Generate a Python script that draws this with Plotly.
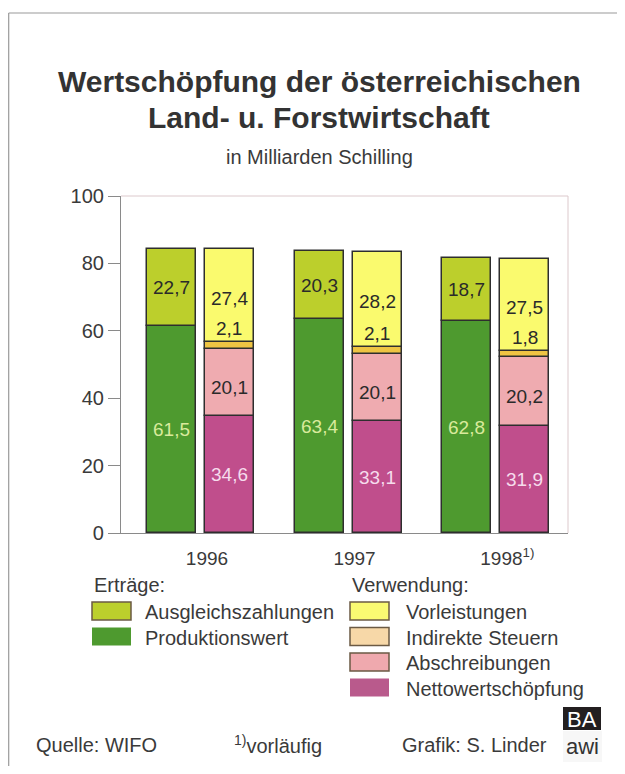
import plotly.graph_objects as go
import numpy as np

# ---------------- data ----------------
years = ["1996", "1997", "1998"]
year_labels = ["1996", "1997", "&nbsp;&nbsp;1998<sup>1)</sup>"]
y_ticks = [0, 20, 40, 60, 80, 100]

# Erträge
produktionswert = [61.5, 63.4, 62.8]
ausgleichszahlungen = [22.7, 20.3, 18.7]
# Verwendung
nettowertschoepfung = [34.6, 33.1, 31.9]
abschreibungen = [20.1, 20.1, 20.2]
indirekte_steuern = [2.1, 2.1, 1.8]
vorleistungen = [27.4, 28.2, 27.5]

# ---------------- layout constants ----------------
# the page body has an 8px margin, so the figure is a bit smaller
BODY = 8
WIDTH, HEIGHT = 625 - 2 * BODY, 774 - 2 * BODY
# plot area in page (reference) pixels
PL, PR, PT, PB = 121, 568, 196, 533
PW, PH = PR - PL, PB - PT

def px(x):
    return (x - PL) / PW

def py(y):
    return (PB - y) / PH

FONT = "Liberation Sans, Arial, Helvetica, sans-serif"
TXT = "#3a3a3a"
OUTLINE = "#2e2e2e"

C_AUSG = "#bccf2c"
C_PROD = "#4e9a2f"
C_VORL = "#fafa6e"
C_STEU = "#eec443"
C_ABSC = "#efabb0"
C_NETT = "#c04e8c"

BAR_W = 0.332
OFF_L = -0.405
OFF_R = -0.0136

fig = go.Figure()
xidx = np.arange(len(years))

def add_stack(values_list, colors, offset):
    base = np.zeros(len(years))
    bases = []
    for vals, col in zip(values_list, colors):
        vals = np.array(vals)
        fig.add_trace(go.Bar(
            x=years, y=vals, base=base.copy(), width=BAR_W, offset=offset,
            marker=dict(color=col, line=dict(color=OUTLINE, width=1.5)),
            hoverinfo="skip", showlegend=False,
        ))
        bases.append(base.copy())
        base = base + vals
    return bases

left_bases = add_stack([produktionswert, ausgleichszahlungen], [C_PROD, C_AUSG], OFF_L)
right_bases = add_stack([nettowertschoepfung, abschreibungen, indirekte_steuern, vorleistungen],
                        [C_NETT, C_ABSC, C_STEU, C_VORL], OFF_R)

def fmt(v):
    return f"{v:.1f}".replace(".", ",")

annotations = []

def label(i, offset, y, v, color):
    annotations.append(dict(
        x=float(xidx[i] + offset + BAR_W / 2), y=float(y), xref="x", yref="y",
        text=fmt(v), showarrow=False, xanchor="center", yanchor="middle",
        font=dict(family=FONT, size=19, color=color),
    ))

for i in range(len(years)):
    # left stack
    label(i, OFF_L, left_bases[0][i] + produktionswert[i] / 2, produktionswert[i], "#d9ea9c")
    label(i, OFF_L, left_bases[1][i] + ausgleichszahlungen[i] / 2, ausgleichszahlungen[i], "#2a2a2a")
    # right stack
    label(i, OFF_R, right_bases[0][i] + nettowertschoepfung[i] / 2, nettowertschoepfung[i], "#f6dcec")
    label(i, OFF_R, right_bases[1][i] + abschreibungen[i] / 2 - 1.5, abschreibungen[i], "#2a2a2a")
    label(i, OFF_R, right_bases[2][i] + indirekte_steuern[i] + 4.0, indirekte_steuern[i], "#2a2a2a")
    label(i, OFF_R, right_bases[3][i] + vorleistungen[i] / 2 - 0.8, vorleistungen[i], "#2a2a2a")

def ptext(x, y, text, size=20, color=TXT, xanchor="left", bold=False):
    annotations.append(dict(
        x=px(x), y=py(y), xref="paper", yref="paper", text=f"<b>{text}</b>" if bold else text,
        showarrow=False, xanchor=xanchor, yanchor="middle",
        font=dict(family=FONT, size=size, color=color),
    ))

# titles
ptext(319, 81, "Wertschöpfung der österreichischen", size=30, color="#333333", xanchor="center", bold=True)
ptext(319, 117, "Land- u. Forstwirtschaft", size=30, color="#333333", xanchor="center", bold=True)
ptext(319, 157, "in Milliarden Schilling", size=20, xanchor="center")

# legend
ptext(92, 585, "Erträge:")
ptext(350, 585, "Verwendung:")
left_items = [("Ausgleichszahlungen", C_AUSG, True), ("Produktionswert", C_PROD, False)]
right_items = [("Vorleistungen", "#fafa72", True), ("Indirekte Steuern", "#f7d8a8", True),
               ("Abschreibungen", "#efa9ae", True), ("Nettowertschöpfung", "#b95a8c", False)]

shapes = []
def swatch(x0, yc, color, outline):
    shapes.append(dict(
        type="rect", xref="paper", yref="paper",
        x0=px(x0), x1=px(x0 + 39), y0=py(yc + 9), y1=py(yc - 9),
        fillcolor=color,
        line=dict(color="#6b5a44" if outline else color, width=1.5 if outline else 0),
    ))

for k, (name, col, ol) in enumerate(left_items):
    yc = 611 + k * 25.5
    swatch(92, yc, col, ol)
    ptext(143, yc + 1, name)
for k, (name, col, ol) in enumerate(right_items):
    yc = 611 + k * 25.5
    swatch(350, yc, col, ol)
    ptext(404, yc + 1, name)

# footer
ptext(34, 745, "Quelle: WIFO")
ptext(232, 744, "<sup>1)</sup>vorläufig")
ptext(400, 745, "Grafik: S. Linder")

# BA awi logo
shapes.append(dict(type="rect", xref="paper", yref="paper",
                   x0=px(563), x1=px(601), y0=py(730), y1=py(707),
                   fillcolor="#231f20", line=dict(width=0)))
shapes.append(dict(type="rect", xref="paper", yref="paper",
                   x0=px(563), x1=px(602), y0=py(762), y1=py(731),
                   fillcolor="#f7f7f7", line=dict(width=0)))
ptext(582, 719, "BA", size=22, color="#ffffff", xanchor="center")
ptext(582, 746, "awi", size=22, color="#333333", xanchor="center")

# plot frame (top & right light)
shapes.append(dict(type="line", xref="paper", yref="paper", x0=0, x1=1, y0=1, y1=1,
                   line=dict(color="#dcc9cc", width=1)))
shapes.append(dict(type="line", xref="paper", yref="paper", x0=1, x1=1, y0=0, y1=1,
                   line=dict(color="#dcc9cc", width=1)))

# outer frame
shapes.append(dict(type="line", xref="paper", yref="paper", x0=px(8.7), x1=px(640), y0=py(13), y1=py(13),
                   line=dict(color="#9a9a9a", width=1.2)))
shapes.append(dict(type="line", xref="paper", yref="paper", x0=px(8.7), x1=px(8.7), y0=py(13), y1=py(780),
                   line=dict(color="#9a9a9a", width=1.2)))

fig.update_layout(
    width=WIDTH, height=HEIGHT,
    margin=dict(l=PL - BODY, r=(625 - BODY) - PR, t=PT - BODY, b=(774 - BODY) - PB, pad=0),
    paper_bgcolor="white", plot_bgcolor="white",
    barmode="overlay", bargap=0,
    font=dict(family=FONT, size=19, color=TXT),
    showlegend=False,
    annotations=annotations,
    shapes=shapes,
    xaxis=dict(
        type="category", range=[-0.583, 2.447],
        tickmode="array", tickvals=years, ticktext=year_labels,
        showline=True, linecolor="#8a8a8a", linewidth=1.2,
        ticks="", showgrid=False, zeroline=False,
        tickfont=dict(family=FONT, size=19, color=TXT),
        ticklabelstandoff=8,
    ),
    yaxis=dict(
        range=[0, 100], tickmode="array", tickvals=y_ticks,
        showline=True, linecolor="#8a8a8a", linewidth=1.2,
        ticks="outside", ticklen=12, tickcolor="#8a8a8a", tickwidth=1.2,
        showgrid=False, zeroline=False,
        tickfont=dict(family=FONT, size=20, color=TXT),
        ticklabelstandoff=0,
    ),
)

fig.write_html("out.html")
